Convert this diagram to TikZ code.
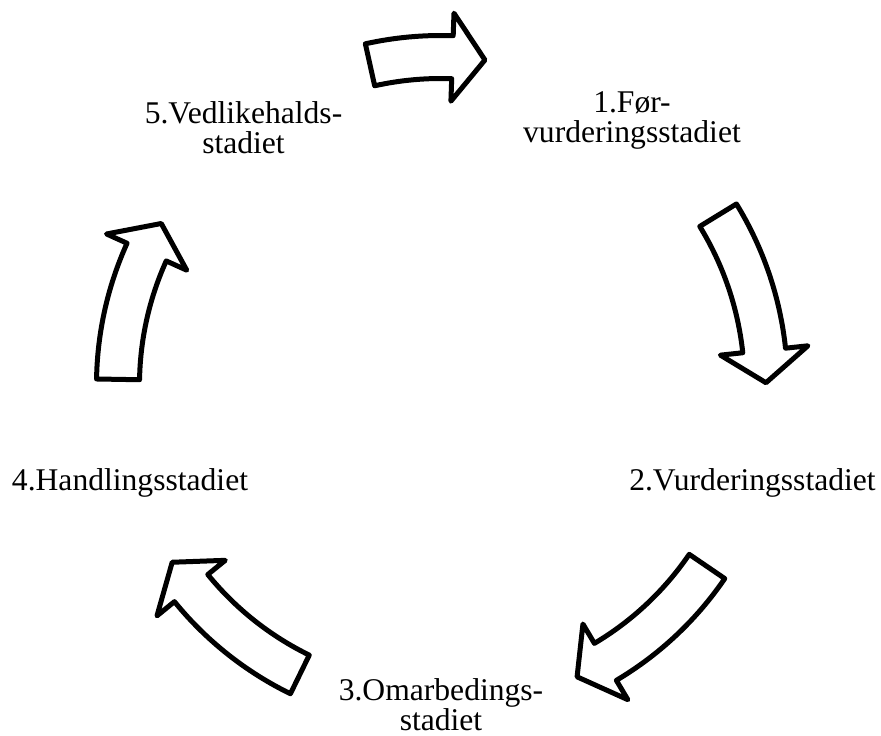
\documentclass[tikz,border=0pt]{standalone}
\usepackage{fontspec}
\setmainfont{Liberation Serif}
\usetikzlibrary{positioning}

% curved block arrow round the hub: #1 tail angle, #2 tip angle, #3 radius in pt
\newcommand{\cyclearrow}[3]{%
	\draw[blockarrow] ({#1}:{#3pt+21.5pt})
		arc[start angle={#1}, end angle={#2+5.7}, radius={#3pt+21.5pt}]
		-- ({#2+5.7}:{#3pt+44pt}) -- ({#2}:{#3pt}) -- ({#2+5.7}:{#3pt-44pt})
		-- ({#2+5.7}:{#3pt-21.5pt})
		arc[start angle={#2+5.7}, end angle={#1}, radius={#3pt-21.5pt}] -- cycle;}

\begin{document}
\begin{tikzpicture}[every node/.style={
				align=center,
				inner sep=0pt,
				anchor=base,
				font=\fontsize{31.6}{30}\selectfont
			},
			blockarrow/.style={draw, line width=5pt, line join=round, fill=white}]
			
			\useasboundingbox (0,0) rectangle (881pt,-736pt);
			
			\coordinate(hub) at (441pt,-385pt);
			
			% base is the last line of a node
			\node(pre) at (632pt,-142pt){1.Før-\\vurderingsstadiet};
			
			\node(contemp) at (752.5pt,-490pt){2.Vurderingsstadiet};
			
			\node(prep) at (441pt,-730pt){3.Omarbedings-\\stadiet};
			
			\node(action) at (130pt,-490pt){4.Handlingsstadiet};
			
			\node(maint) at (243.5pt,-153pt){5.Vedlikehalds-\\stadiet};
			
			\begin{scope}[shift={(hub)}]
				\cyclearrow{102.5}{82.3}{328}
				
				\cyclearrow{31.5}{0.4}{325}
				
				\cyclearrow{-34.3}{-65}{322}
				
				\cyclearrow{-116}{-146.6}{322}
				
				\cyclearrow{179}{150}{323}
			\end{scope}
			
		\end{tikzpicture}
\end{document}
